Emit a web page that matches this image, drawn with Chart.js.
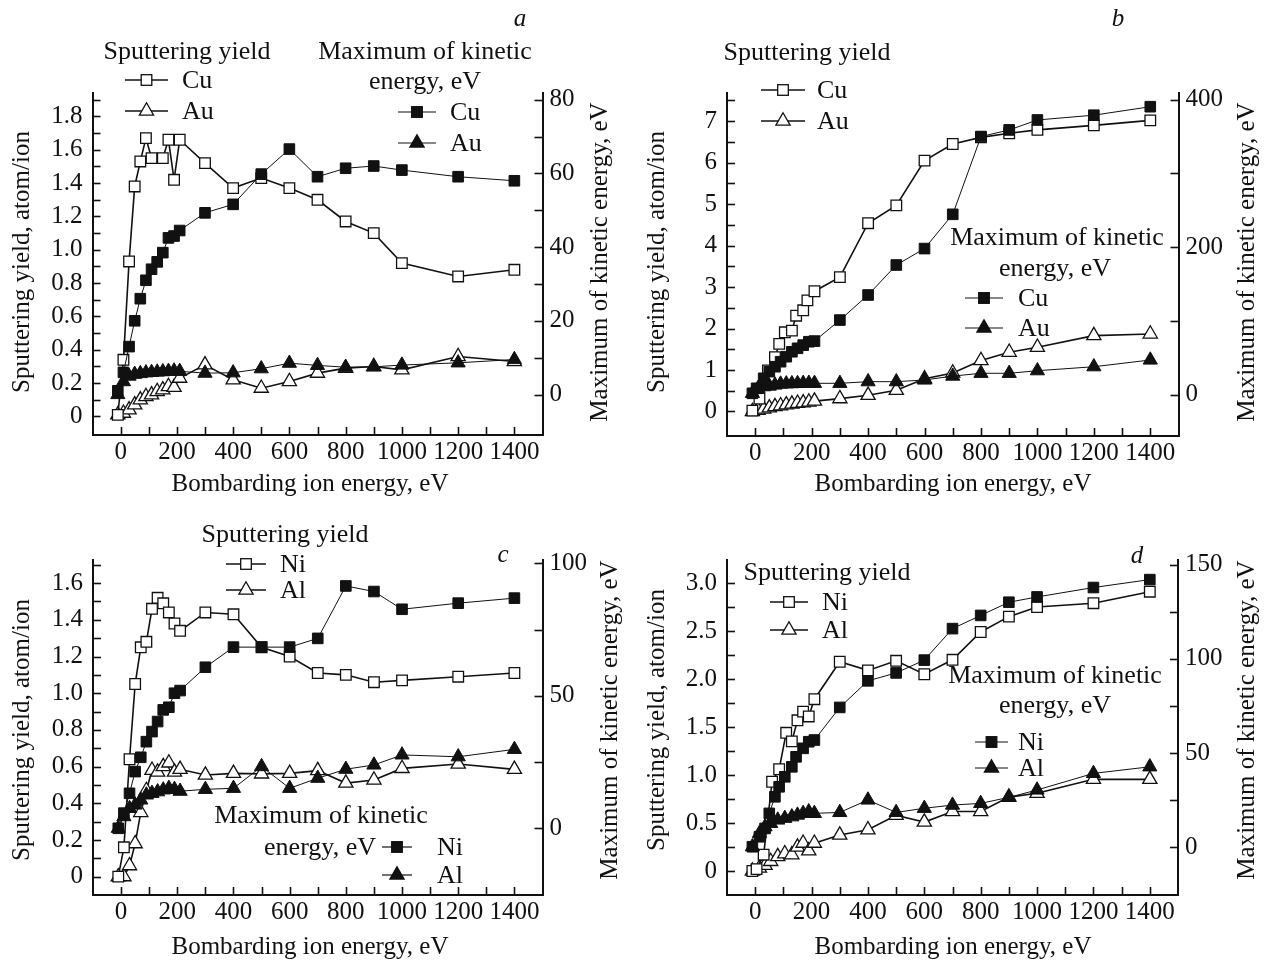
<!DOCTYPE html>
<html><head><meta charset="utf-8"><title>Sputtering yield and maximum kinetic energy</title>
<script src="https://cdn.jsdelivr.net/npm/chart.js@4.4.1/dist/chart.umd.min.js"></script>
<style>
html,body{margin:0;padding:0;background:#fff}
#wrap{position:relative;width:1267px;height:965px;overflow:hidden;font-family:'Liberation Serif','Times New Roman',serif;color:#111}
canvas{position:absolute;left:0;top:0}
.t{position:absolute;white-space:nowrap;font-size:25px;line-height:1;transform:translate(-50%,-50%)}
.g{font-size:26px}
.l{position:absolute;white-space:nowrap;font-size:26px;line-height:1;transform:translate(0,-50%)}
.v{transform:translate(-50%,-50%) rotate(-90deg)}
.i{font-style:italic}
svg{position:absolute;left:0;top:0}
</style></head>
<body><div id="wrap">
<canvas id="cva" width="1267" height="965"></canvas>
<canvas id="cvb" width="1267" height="965"></canvas>
<canvas id="cvc" width="1267" height="965"></canvas>
<canvas id="cvd" width="1267" height="965"></canvas>
<svg id="leg" width="1267" height="965"></svg>
</div>
<script>
// ---------------- DATA ----------------
const xTickLabels = ['0','200','400','600','800','1000','1200','1400'];

// Panel a : Cu, Au
const aLeftTickLabels  = ['0','0.2','0.4','0.6','0.8','1.0','1.2','1.4','1.6','1.8'];
const aRightTickLabels = ['0','20','40','60','80'];
const aCuYieldE = [-10,10,30,50,70,90,110,150,170,190,210,300,400,500,600,700,800,900,1000,1200,1400];
const aCuYield  = [0.01,0.34,0.93,1.38,1.53,1.67,1.55,1.55,1.66,1.42,1.66,1.52,1.37,1.43,1.37,1.30,1.17,1.10,0.92,0.84,0.88];
const aE        = [-10,10,30,50,70,90,110,130,150,170,190,210,300,400,500,600,700,800,900,1000,1200,1400];
const aAuYield  = [0.01,0.02,0.04,0.07,0.10,0.12,0.13,0.15,0.16,0.18,0.175,0.23,0.31,0.22,0.17,0.21,0.26,0.29,0.30,0.28,0.36,0.33];
const aCuKin    = [1,6,13,20,26,31,34,36,38.5,42.5,43,44.5,49.3,51.6,59.8,66.6,59.1,61.4,62.0,60.9,59.1,58.0];
const aAuKin    = [0,3.5,5.0,5.5,5.7,5.9,6.0,6.1,6.2,6.3,6.4,6.3,5.8,5.9,7.0,8.5,7.9,7.4,7.5,8.0,8.6,9.5];

// Panel b : Cu, Au
const bLeftTickLabels  = ['0','1','2','3','4','5','6','7'];
const bRightTickLabels = ['0','200','400'];
const bCuYieldE = [-10,15,45,70,85,105,130,145,170,185,210,300,400,500,600,700,800,900,1000,1200,1400];
const bCuYield  = [0.02,0.31,0.99,1.31,1.63,1.91,1.95,2.31,2.44,2.68,2.90,3.24,4.54,4.97,6.05,6.45,6.61,6.71,6.79,6.90,7.02];
const bCuKinE   = [-10,5,30,50,70,90,110,130,150,170,190,210,300,400,500,600,700,800,900,1000,1200,1400];
const bCuKin    = [1.6,8.4,22,31,37.7,44.5,51.3,58,62.7,67,71.6,72.5,101,135,175.7,198,244.5,350,359,372.5,379,390.5];
const bAuE      = [-10,10,30,50,70,90,110,130,150,170,190,210,300,400,500,600,700,800,900,1000,1200,1400];
const bAuYield  = [0,0.03,0.06,0.09,0.12,0.14,0.16,0.18,0.20,0.21,0.23,0.25,0.31,0.39,0.51,0.79,0.93,1.23,1.43,1.55,1.83,1.87];
const bAuKin    = [1.6,8.4,10.6,11.5,12.9,14.2,14.5,14.8,15,15.2,15.4,15.2,15.2,17.4,17.4,19.7,25,28.8,28.8,32.3,37.7,46.8];

// Panel c : Ni, Al
const cLeftTickLabels  = ['0','0.2','0.4','0.6','0.8','1.0','1.2','1.4','1.6'];
const cRightTickLabels = ['0','50','100'];
const cE       = [-10,10,30,50,70,90,110,130,150,170,190,210,300,400,500,600,700,800,900,1000,1200,1400];
const cNiYield = [0,0.16,0.64,1.05,1.25,1.28,1.46,1.52,1.49,1.44,1.38,1.34,1.44,1.43,1.25,1.20,1.11,1.10,1.06,1.07,1.09,1.11];
const cNiKin   = [0,5.7,13.2,21.4,26.8,32.7,36.5,40.3,44.7,45.7,51,52,60.8,68.4,68.4,68.4,71.7,91.5,89.4,82.7,85,86.9];
const cAlYield = [0,0,0.06,0.18,0.35,0.47,0.58,0.57,0.60,0.62,0.57,0.585,0.554,0.563,0.56,0.563,0.578,0.51,0.527,0.59,0.614,0.585];
const cAlKin   = [0,4.4,7.5,8.8,10.7,12.6,13.2,13.8,14.5,15.1,14.7,14.0,14.7,15.1,23.3,15.1,18.9,22.3,23.9,27.7,27,29.8];

// Panel d : Ni, Al
const dLeftTickLabels  = ['0','0.5','1.0','1.5','2.0','2.5','3.0'];
const dRightTickLabels = ['0','50','100','150'];
const dNiYieldE = [-10,5,30,60,85,110,130,150,170,190,210,300,400,500,600,700,800,900,1000,1200,1400];
const dNiYield  = [0,0.02,0.17,0.93,1.06,1.44,1.35,1.57,1.66,1.61,1.79,2.18,2.09,2.19,2.05,2.20,2.49,2.65,2.75,2.79,2.91];
const dNiKinE   = [-10,15,35,50,70,85,105,130,145,170,190,210,300,400,500,600,700,800,900,1000,1200,1400];
const dNiKin    = [0.3,5.6,10,18,26.8,32.1,37.4,42.7,48,52.5,56,56.9,74.2,88.3,92.5,99.3,116,123,130,132.8,137.8,142];
const dAlE      = [-10,15,35,55,80,105,130,150,170,190,210,300,400,500,600,700,800,900,1000,1200,1400];
const dAlYield  = [0,0.03,0.06,0.10,0.15,0.18,0.17,0.25,0.29,0.21,0.29,0.375,0.43,0.58,0.51,0.62,0.62,0.77,0.81,0.955,0.955];
const dAlKin    = [0.3,7.4,10.9,12.7,14.5,15.4,16.2,17.1,18,18.9,18,18.5,25.1,18.5,20.7,22.4,23.3,26.5,30.4,39.2,42.7];

// ---------------- RENDERING ----------------
const W = 1267, H = 965;
const FONT = "'Liberation Serif','Times New Roman',serif";
const INK = '#111';
const YW = 70, XH = 45;   // reserved scale box sizes (labels live in them)

function pts(E, V) { return E.map((e, i) => ({ x: e, y: V[i] })); }
function series(label, E, V, axis, shape, filled) {
  return {
    label, data: pts(E, V), yAxisID: axis,
    borderColor: INK, borderWidth: filled ? 1 : 1.6,
    pointStyle: shape, pointRadius: shape === 'rect' ? 7.5 : 8.2,
    pointBackgroundColor: filled ? INK : '#fff', pointBorderColor: INK,
    pointBorderWidth: filled ? 1 : 1.3, tension: 0, fill: false
  };
}
function tickList(max, step) {
  const out = [];
  for (let k = 0; ; k++) { const v = +(k * step).toFixed(6); if (v > max - 1e-6) break; out.push({ value: v }); }
  return out;
}
function labelFor(labels) {
  const nums = labels.map(Number);
  return v => { const i = nums.findIndex(n => Math.abs(n - v) < 1e-6); return i < 0 ? '' : labels[i]; };
}
function yScale(pos, c) {
  return {
    type: 'linear', position: pos, min: c.min, max: c.max,
    afterFit: s => { s.width = YW; },
    afterBuildTicks: s => { s.ticks = tickList(c.max, c.step); },
    ticks: { callback: labelFor(c.labels), autoSkip: false, padding: c.pad, color: INK, font: { family: FONT, size: 25 } },
    grid: { display: false, drawTicks: false },
    border: { display: true, color: INK, width: 2 }
  };
}
const inwardTicks = {
  id: 'inwardTicks',
  beforeDatasetsDraw(chart) {
    const ctx = chart.ctx, ca = chart.chartArea;
    ctx.save(); ctx.strokeStyle = INK; ctx.lineWidth = 1.6;
    ['x', 'yL', 'yR'].forEach(id => {
      const s = chart.scales[id];
      s.ticks.forEach(t => {
        const p = Math.round(s.getPixelForValue(t.value)) + 0.5;
        const len = 8;
        ctx.beginPath();
        if (id === 'x') { ctx.moveTo(p, ca.bottom); ctx.lineTo(p, ca.bottom - len); }
        else if (id === 'yL') { ctx.moveTo(ca.left, p); ctx.lineTo(ca.left + len, p); }
        else { ctx.moveTo(ca.right, p); ctx.lineTo(ca.right - len, p); }
        ctx.stroke();
      });
    });
    ctx.restore();
  }
};

function makePanel(canvasId, p) {
  new Chart(document.getElementById(canvasId), {
    type: 'line',
    data: { datasets: p.datasets },
    options: {
      responsive: false, animation: false, devicePixelRatio: 1, events: [],
      layout: { padding: { left: p.area.left - YW, right: W - p.area.right - YW, top: p.area.top, bottom: H - p.area.bottom - XH } },
      plugins: { legend: { display: false }, tooltip: { enabled: false } },
      scales: {
        x: {
          type: 'linear', position: 'bottom', min: -100, max: 1500,
          afterFit: s => { s.height = XH; },
          afterBuildTicks: s => { s.ticks = tickList(1500, 100); },
          ticks: { callback: labelFor(xTickLabels), autoSkip: false, maxRotation: 0, minRotation: 0, padding: 2, color: INK, font: { family: FONT, size: 25 } },
          grid: { display: false, drawTicks: false },
          border: { display: true, color: INK, width: 2 }
        },
        yL: yScale('left', p.yL),
        yR: yScale('right', p.yR)
      }
    },
    plugins: [inwardTicks]
  });
}

makePanel('cva', {
  area: { left: 92.5, right: 542.5, top: 93, bottom: 435 },
  yL: { min: -0.111, max: 1.9406, step: 0.1, labels: aLeftTickLabels, pad: 10 },
  yR: { min: -10.99, max: 81.82, step: 10, labels: aRightTickLabels, pad: 7 },
  datasets: [
    series('Cu kinetic', aE, aCuKin, 'yR', 'rect', true),
    series('Au kinetic', aE, aAuKin, 'yR', 'triangle', true),
    series('Cu yield', aCuYieldE, aCuYield, 'yL', 'rect', false),
    series('Au yield', aE, aAuYield, 'yL', 'triangle', false)
  ]
});
makePanel('cvb', {
  area: { left: 727, right: 1178.5, top: 93, bottom: 436 },
  yL: { min: -0.591, max: 7.68, step: 0.5, labels: bLeftTickLabels, pad: 10 },
  yR: { min: -56.3, max: 409.1, step: 100, labels: bRightTickLabels, pad: 7 },
  datasets: [
    series('Cu kinetic', bCuKinE, bCuKin, 'yR', 'rect', true),
    series('Au kinetic', bAuE, bAuKin, 'yR', 'triangle', true),
    series('Cu yield', bCuYieldE, bCuYield, 'yL', 'rect', false),
    series('Au yield', bAuE, bAuYield, 'yL', 'triangle', false)
  ]
});
makePanel('cvc', {
  area: { left: 93, right: 542.5, top: 560, bottom: 895 },
  yL: { min: -0.1, max: 1.726, step: 0.1, labels: cLeftTickLabels, pad: 10 },
  yR: { min: -25.2, max: 101.3, step: 25, labels: cRightTickLabels, pad: 7 },
  datasets: [
    series('Ni kinetic', cE, cNiKin, 'yR', 'rect', true),
    series('Al kinetic', cE, cAlKin, 'yR', 'triangle', true),
    series('Ni yield', cE, cNiYield, 'yL', 'rect', false),
    series('Al yield', cE, cAlYield, 'yL', 'triangle', false)
  ]
});
makePanel('cvd', {
  area: { left: 727, right: 1178, top: 560, bottom: 895 },
  yL: { min: -0.25, max: 3.24, step: 0.25, labels: dLeftTickLabels, pad: 10 },
  yR: { min: -25.3, max: 152.4, step: 25, labels: dRightTickLabels, pad: 7 },
  datasets: [
    series('Ni kinetic', dNiKinE, dNiKin, 'yR', 'rect', true),
    series('Al kinetic', dAlE, dAlKin, 'yR', 'triangle', true),
    series('Ni yield', dNiYieldE, dNiYield, 'yL', 'rect', false),
    series('Al yield', dAlE, dAlYield, 'yL', 'triangle', false)
  ]
});

// ---------------- TEXT AND LEGENDS ----------------
const wrap = document.getElementById('wrap');
function txt(s, x, y, cls) {
  const d = document.createElement('div');
  d.className = cls; d.textContent = s;
  d.style.left = x + 'px'; d.style.top = y + 'px';
  wrap.appendChild(d);
}
const texts = [
  ['a', 520, 17, 't i'], ['b', 1118, 17, 't i'], ['c', 503, 553, 't i'], ['d', 1137, 554, 't i'],
  ['Sputtering yield', 187, 51, 't g'], ['Maximum of kinetic', 425, 51, 't g'], ['energy, eV', 425, 81, 't g'],
  ['Sputtering yield', 807, 52, 't g'], ['Maximum of kinetic', 1057, 237, 't g'], ['energy, eV', 1055, 268, 't g'],
  ['Sputtering yield', 285, 534, 't g'], ['Maximum of kinetic', 321, 815, 't g'], ['energy, eV', 320, 847, 't g'],
  ['Sputtering yield', 827, 572, 't g'], ['Maximum of kinetic', 1055, 675, 't g'], ['energy, eV', 1055, 705, 't g'],
  ['Sputtering yield, atom/ion', 20, 262, 't v'], ['Maximum of kinetic energy, eV', 598, 262, 't v'], ['Bombarding ion energy, eV', 310, 482, 't'],
  ['Sputtering yield, atom/ion', 655, 262, 't v'], ['Maximum of kinetic energy, eV', 1245, 262, 't v'], ['Bombarding ion energy, eV', 953, 482, 't'],
  ['Sputtering yield, atom/ion', 20, 730, 't v'], ['Maximum of kinetic energy, eV', 608, 720, 't v'], ['Bombarding ion energy, eV', 310, 945, 't'],
  ['Sputtering yield, atom/ion', 655, 720, 't v'], ['Maximum of kinetic energy, eV', 1245, 720, 't v'], ['Bombarding ion energy, eV', 953, 945, 't']
];
texts.forEach(t => txt(t[0], t[1], t[2], t[3]));

// legend rows: [x1, x2, y, shape, filled, label, textX]
const legendRows = [
  [125, 168, 80, 'rect', false, 'Cu', 182], [125, 168, 111, 'triangle', false, 'Au', 182],
  [398, 436, 112, 'rect', true, 'Cu', 450], [398, 436, 143, 'triangle', true, 'Au', 450],
  [761, 805, 90, 'rect', false, 'Cu', 817], [761, 805, 121, 'triangle', false, 'Au', 817],
  [965, 1003, 298, 'rect', true, 'Cu', 1018], [965, 1003, 328, 'triangle', true, 'Au', 1018],
  [226, 266, 564, 'rect', false, 'Ni', 280], [226, 266, 590, 'triangle', false, 'Al', 280],
  [382, 412, 847, 'rect', true, 'Ni', 437], [382, 412, 875, 'triangle', true, 'Al', 437],
  [770, 808, 602, 'rect', false, 'Ni', 822], [770, 808, 630, 'triangle', false, 'Al', 822],
  [975, 1008, 742, 'rect', true, 'Ni', 1018], [975, 1008, 768, 'triangle', true, 'Al', 1018]
];
const svg = document.getElementById('leg');
let s = '';
legendRows.forEach(r => {
  const [x1, x2, y, shape, filled, label, tx] = r;
  const cx = (x1 + x2) / 2;
  s += `<line x1="${x1}" y1="${y}" x2="${x2}" y2="${y}" stroke="${INK}" stroke-width="${filled ? 1.2 : 1.6}"/>`;
  const fill = filled ? INK : '#fff';
  if (shape === 'rect') s += `<rect x="${cx - 5.3}" y="${y - 5.3}" width="10.6" height="10.6" fill="${fill}" stroke="${INK}" stroke-width="1.3"/>`;
  else s += `<polygon points="${cx},${y - 8.2} ${cx + 7.1},${y + 4.1} ${cx - 7.1},${y + 4.1}" fill="${fill}" stroke="${INK}" stroke-width="1.3"/>`;
  txt(label, tx, y, 'l');
});
svg.innerHTML = s;
</script></body></html>
